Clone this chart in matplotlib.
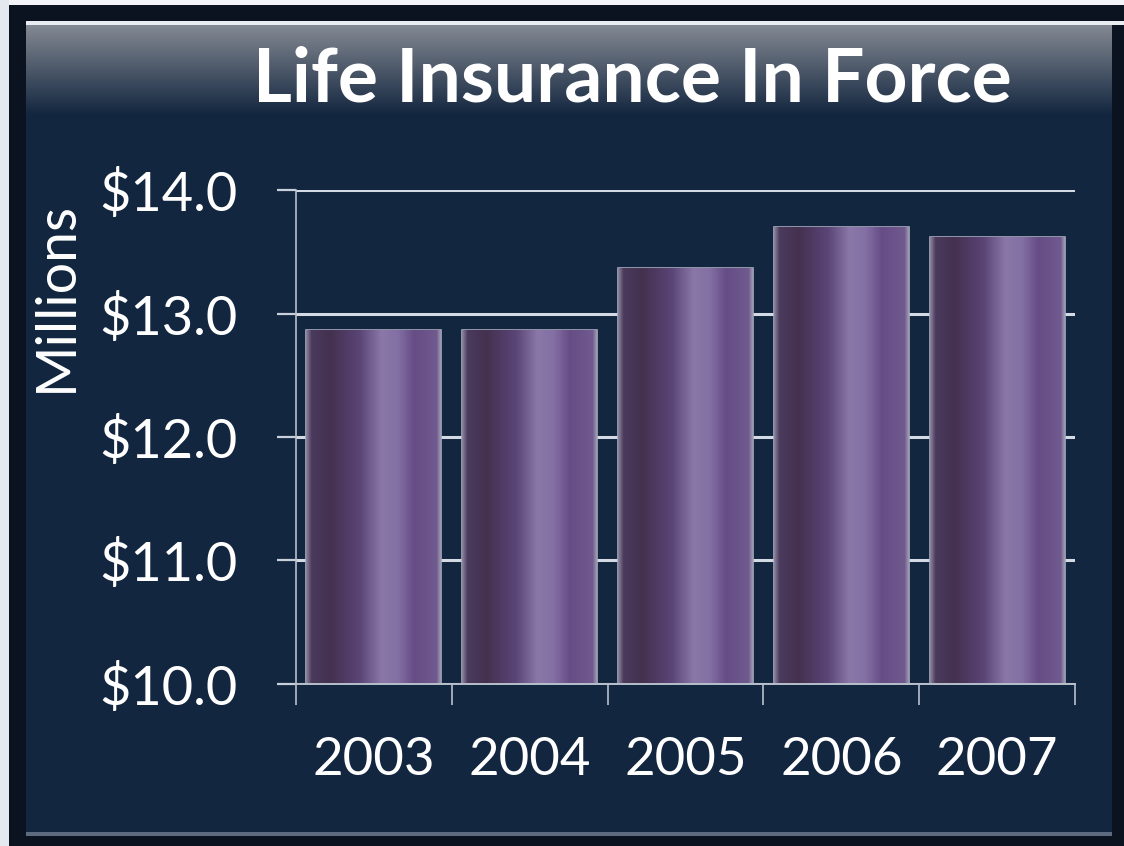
import numpy as np
import matplotlib
matplotlib.use("Agg")
import matplotlib.pyplot as plt
from matplotlib.colors import LinearSegmentedColormap, to_rgb
from matplotlib.ticker import FixedLocator, FuncFormatter

# chart data
years = ["2003", "2004", "2005", "2006", "2007"]
in_force = [12.87, 12.87, 13.37, 13.70, 13.62]
y_ticks = [10.0, 11.0, 12.0, 13.0, 14.0]

title = "Life Insurance In Force"
y_label = "Millions"

FONT = "Lato"
W, H = 1124, 846


def panel_background():
    """Navy panel with a bevelled frame, drawn as an image."""
    navy = np.array(to_rgb("#13263f"))
    img = np.tile(navy, (H, W, 1))
    rows = np.arange(H)[:, None]
    # sheen at the top of the panel
    t = np.clip((rows - 24) / 90.0, 0, 1)[:, :, None]
    top = np.array(to_rgb("#858a93"))
    img = img * t + top * (1 - t) * np.ones((1, W, 1))
    # dark frame
    frame = np.array(to_rgb("#0b1320"))
    img[:22, :] = frame
    img[836:, :] = frame
    img[:, :26] = frame
    img[:, 1112:] = frame
    # highlight lines of the bevel
    img[21:25, 26:] = to_rgb("#e9ecf1")
    img[832:836, 26:1112] = to_rgb("#5d6b80")
    # window behind the frame
    img[:5, :] = to_rgb("#f2f4f8")
    img[:, :9] = to_rgb("#e4e8ef")
    return img


fig = plt.figure(figsize=(W / 100, H / 100), dpi=100)
bg = fig.add_axes([0, 0, 1, 1])
bg.imshow(panel_background(), extent=[0, W, H, 0], aspect="auto",
          interpolation="bilinear")
bg.axis("off")

ax = fig.add_axes([0.2633, 0.1915, 0.6931, 0.5839])
ax.set_facecolor("none")

x = np.arange(len(years))
bars = ax.bar(x, in_force, width=0.866, bottom=0, color="#5a4878",
              edgecolor="#a7a9bd", linewidth=1.2, zorder=3)

# cylindrical shading on each bar
shade = LinearSegmentedColormap.from_list("bar", [
    (0.00, "#8d86a0"), (0.04, "#4a3a5c"), (0.18, "#44314f"),
    (0.40, "#5a4577"), (0.56, "#8a78a8"), (0.68, "#8470a4"),
    (0.80, "#664d86"), (0.97, "#705a8e"), (1.00, "#a09cb4")])
grad = np.linspace(0, 1, 256)[None, :]
for b in bars:
    x0, y0 = b.get_x(), 10.0
    im = ax.imshow(grad, cmap=shade, aspect="auto", zorder=3.5,
                   extent=[x0, x0 + b.get_width(), y0, b.get_height()])
    im.set_clip_path(b)

ax.set_xlim(-0.5, len(years) - 0.5)
ax.set_ylim(10, 14)

ax.yaxis.set_major_locator(FixedLocator(y_ticks))
ax.yaxis.set_major_formatter(FuncFormatter(lambda v, p: f"${v:.1f}"))
ax.grid(axis="y", color="#d4dae4", linewidth=2.2, zorder=1)
ax.set_axisbelow(True)

ax.set_xticks(x)
ax.set_xticklabels(years)
ax.set_xticks(np.arange(len(years) + 1) - 0.5, minor=True)
ax.tick_params(axis="x", which="major", length=0, pad=38,
               labelsize=38, labelcolor="white")
ax.tick_params(axis="x", which="minor", length=15, width=1.2,
               color="#b8c0cc", direction="out")
ax.tick_params(axis="y", length=14, width=1.6, color="#c8d0dc",
               direction="out", pad=28, labelsize=39, labelcolor="white")
for lbl in ax.get_xticklabels() + ax.get_yticklabels():
    lbl.set_family(FONT)

for side in ["top", "right"]:
    ax.spines[side].set_visible(False)
ax.spines["left"].set_color("#b8c0cc")
ax.spines["left"].set_linewidth(1.2)
ax.spines["bottom"].set_color("#b8c0cc")
ax.spines["bottom"].set_linewidth(1.4)
ax.spines["bottom"].set_zorder(4)

# y label placed by figure coordinates, left of the tick labels
fig.text(56 / W, 1 - 296 / H, y_label, family=FONT, fontsize=40,
         color="white", rotation=90, ha="center", va="center")

fig.text(632 / W, 1 - 80 / H, title, family=FONT, fontweight="bold",
         fontsize=54, color="white", ha="center", va="center")

fig.savefig("out.png", dpi=100)
